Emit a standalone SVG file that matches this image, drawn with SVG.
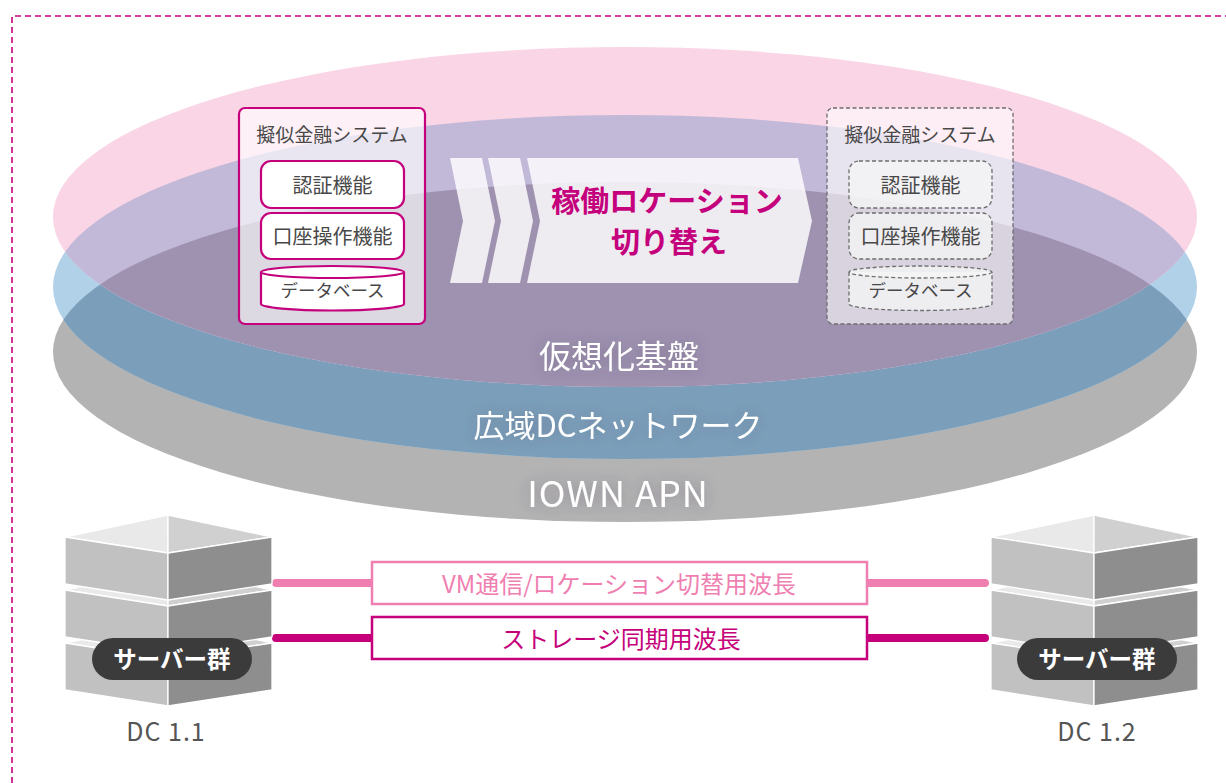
<svg xmlns="http://www.w3.org/2000/svg" width="1226" height="783" viewBox="0 0 1226 783">
  <defs>
    <style>
      text { font-family: "Noto Sans CJK JP", "Noto Sans", sans-serif; text-anchor: middle; }
      .frame { fill: none; stroke: #c8007d; stroke-width: 1.6; stroke-dasharray: 6 4; }
      .sys { fill: #ffffff; fill-opacity: 0.65; stroke: #c5007c; stroke-width: 2.2; }
      .sysd { fill: #ffffff; fill-opacity: 0.6; stroke: #6e6e6e; stroke-width: 1.3; stroke-dasharray: 4 2.5; }
      .fn { fill: #ffffff; stroke: #c5007c; stroke-width: 2.2; }
      .fnd { fill: #f6f6f6; fill-opacity: 0.75; stroke: #6e6e6e; stroke-width: 1.3; stroke-dasharray: 4 2.5; }
      .t-title { font-size: 19px; fill: #484848; }
      .t-fn { font-size: 20px; fill: #484848; }
      .t-db { font-size: 17.5px; fill: #484848; }
      .chev { fill: #ffffff; fill-opacity: 0.82; }
      .t-move { font-size: 29px; font-weight: 700; fill: #c4007c; }
      .t-layer { font-size: 32px; fill: #ffffff; }
      .face-l { fill: #c1c1c1; stroke: #ffffff; stroke-width: 1.3; stroke-linejoin: round; }
      .face-r { fill: #8e8e8e; stroke: #ffffff; stroke-width: 1.3; stroke-linejoin: round; }
      .top-l { fill: #e9e9e9; stroke: #ffffff; stroke-width: 1.3; stroke-linejoin: round; }
      .top-r { fill: #d0d0d0; stroke: #ffffff; stroke-width: 1.3; stroke-linejoin: round; }
      .pill { fill: #3b3b3b; }
      .t-pill { font-size: 23.5px; font-weight: 700; fill: #ffffff; }
      .t-dc { font-size: 25px; fill: #555555; letter-spacing: 1px; }
      .wire-a { stroke: #f07fb1; stroke-width: 8; stroke-linecap: round; fill: none; }
      .wire-b { stroke: #c5007a; stroke-width: 8; stroke-linecap: round; fill: none; }
      .lbl-a { fill: #ffffff; stroke: #f07fb1; stroke-width: 2.5; }
      .lbl-b { fill: #ffffff; stroke: #c5007a; stroke-width: 2.5; }
      .t-a { font-size: 24px; fill: #f07fb1; }
      .t-b { font-size: 24px; fill: #c5007a; }
    </style>
    <clipPath id="clip-blue"><ellipse cx="625" cy="287" rx="572" ry="172"/></clipPath>
    <clipPath id="clip-gray"><ellipse cx="625" cy="352" rx="572" ry="170"/></clipPath>
    <filter id="haze" x="-20%" y="-40%" width="140%" height="180%">
      <feGaussianBlur in="SourceAlpha" stdDeviation="7" result="b"/>
      <feFlood flood-color="#4a3d60" flood-opacity="0.35"/>
      <feComposite in2="b" operator="in" result="s"/>
      <feMerge><feMergeNode in="s"/><feMergeNode in="SourceGraphic"/></feMerge>
    </filter>
    <g id="slab">
      <polygon class="top-l" points="0,0 103,-22 103,16"/>
      <polygon class="top-r" points="103,-22 207,0 103,16"/>
      <polygon class="face-l" points="0,0 103,16 103,63 0,47"/>
      <polygon class="face-r" points="103,16 207,0 207,47 103,63"/>
    </g>
  </defs>

  <rect width="1226" height="783" fill="#ffffff"/>
  <path class="frame" d="M12,783 L12,16 L1226,16"/>

  <!-- stacked layers: IOWN APN, wide-area DC network, virtualization base -->
  <g id="layers">
    <ellipse cx="625" cy="352" rx="572" ry="170" fill="#b3b3b3"/>
    <ellipse cx="625" cy="287" rx="572" ry="172" fill="#b1d1e9"/>
    <g clip-path="url(#clip-gray)">
      <ellipse cx="625" cy="287" rx="572" ry="172" fill="#7b9fba"/>
    </g>
    <ellipse cx="625" cy="217" rx="572" ry="170" fill="#f9d5e5"/>
    <g clip-path="url(#clip-blue)">
      <ellipse cx="625" cy="217" rx="572" ry="170" fill="#c2b8d8"/>
      <g clip-path="url(#clip-gray)">
        <ellipse cx="625" cy="217" rx="572" ry="170" fill="#9e92b0"/>
      </g>
    </g>
    <g filter="url(#haze)">
      <text class="t-layer" x="619" y="368">仮想化基盤</text>
      <text class="t-layer" x="618" y="437" style="font-size:31px">広域DCネットワーク</text>
      <text class="t-layer" x="618" y="507" style="font-size:36px;letter-spacing:1px">IOWN APN</text>
    </g>
  </g>

  <!-- active system -->
  <g id="system-active">
    <rect class="sys" x="239" y="108" width="186" height="216" rx="6"/>
    <text class="t-title" x="332" y="142">擬似金融システム</text>
    <rect class="fn" x="261" y="161" width="143" height="47" rx="10"/>
    <text class="t-fn" x="332.5" y="193">認証機能</text>
    <rect class="fn" x="261" y="213" width="143" height="46" rx="10"/>
    <text class="t-fn" x="332.5" y="244">口座操作機能</text>
    <path class="fn" d="M261,272 L261,304 A71.5,6.5 0 0 0 404,304 L404,272"/>
    <ellipse class="fn" cx="332.5" cy="272" rx="71.5" ry="6"/>
    <text class="t-db" x="332.5" y="297">データベース</text>
  </g>

  <!-- standby system -->
  <g id="system-standby">
    <rect class="sysd" x="827" y="108" width="186" height="216" rx="6"/>
    <text class="t-title" x="920" y="142">擬似金融システム</text>
    <rect class="fnd" x="849" y="161" width="143" height="47" rx="10"/>
    <text class="t-fn" x="920.5" y="193">認証機能</text>
    <rect class="fnd" x="849" y="213" width="143" height="46" rx="10"/>
    <text class="t-fn" x="920.5" y="244">口座操作機能</text>
    <path class="fnd" d="M849,272 L849,304 A71.5,6.5 0 0 0 992,304 L992,272"/>
    <ellipse class="fnd" cx="920.5" cy="272" rx="71.5" ry="6"/>
    <text class="t-db" x="920.5" y="297">データベース</text>
  </g>

  <!-- switchover arrow -->
  <g id="switchover">
    <polygon class="chev" points="450,158 482,158 495,221 482,283 450,283 463,221"/>
    <polygon class="chev" points="488,158 520,158 533,221 520,283 488,283 501,221"/>
    <polygon class="chev" points="527,158 798,158 812,221 798,283 527,283 540,221"/>
    <text class="t-move" x="667" y="212">稼働ロケーション</text>
    <text class="t-move" x="669" y="253">切り替え</text>
  </g>

  <!-- wavelength links -->
  <g id="connectors">
    <line class="wire-a" x1="276" y1="583" x2="380" y2="583"/>
    <line class="wire-a" x1="860" y1="583" x2="985" y2="583"/>
    <line class="wire-b" x1="276" y1="638" x2="380" y2="638"/>
    <line class="wire-b" x1="860" y1="638" x2="985" y2="638"/>
    <rect class="lbl-a" x="372" y="562" width="495" height="42"/>
    <text class="t-a" x="619" y="593">VM通信/ロケーション切替用波長</text>
    <rect class="lbl-b" x="372" y="617" width="495" height="42"/>
    <text class="t-b" x="621" y="648">ストレージ同期用波長</text>
  </g>

  <!-- DC 1.1 servers -->
  <g id="dc-1-1">
    <use href="#slab" x="65" y="643"/>
    <use href="#slab" x="65" y="590"/>
    <use href="#slab" x="65" y="537"/>
    <rect class="pill" x="92" y="638" width="160" height="42" rx="21"/>
    <text class="t-pill" x="172" y="668">サーバー群</text>
    <text class="t-dc" x="166" y="741">DC 1.1</text>
  </g>

  <!-- DC 1.2 servers -->
  <g id="dc-1-2">
    <use href="#slab" x="991" y="643"/>
    <use href="#slab" x="991" y="590"/>
    <use href="#slab" x="991" y="537"/>
    <rect class="pill" x="1017" y="638" width="160" height="42" rx="21"/>
    <text class="t-pill" x="1097" y="668">サーバー群</text>
    <text class="t-dc" x="1097" y="741">DC 1.2</text>
  </g>
</svg>
